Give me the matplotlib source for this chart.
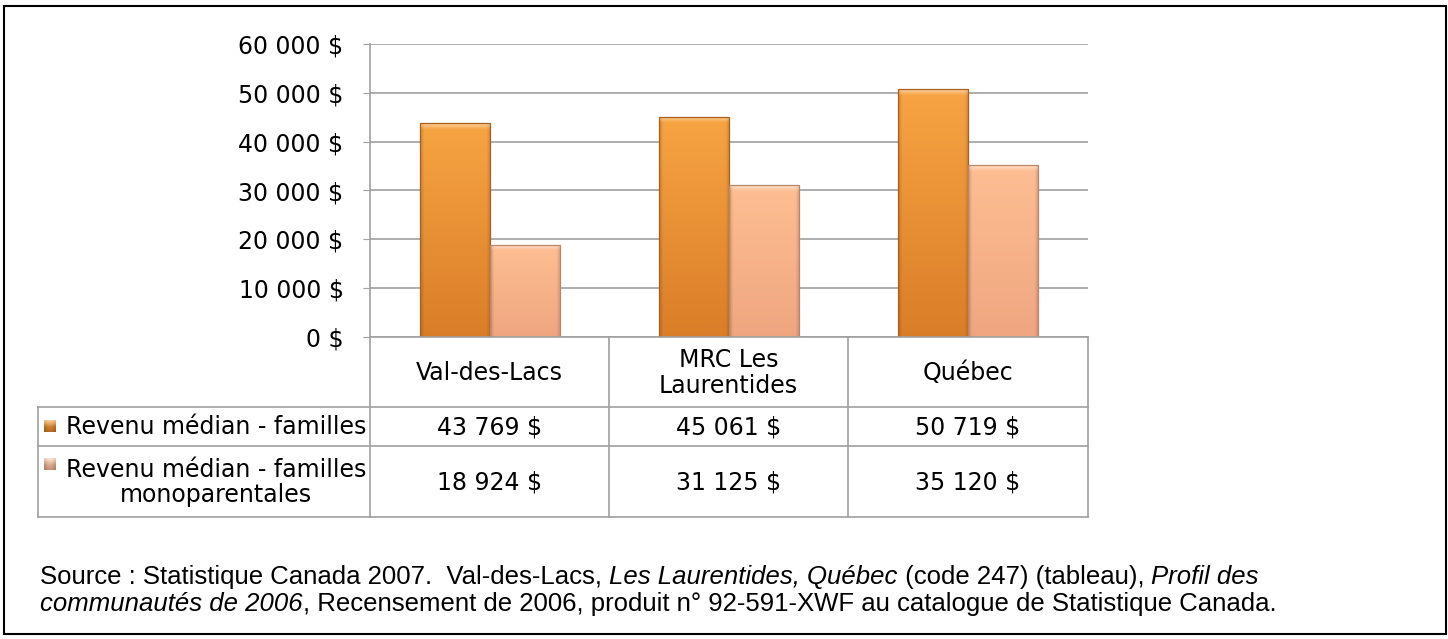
"""
Revenu médian des familles - Val-des-Lacs, MRC Les Laurentides, Québec (2006)
"""
import numpy as np
import matplotlib.pyplot as plt
from matplotlib.patches import Rectangle
from matplotlib.colors import to_rgb

# --- Data ---
categories = ['Val-des-Lacs', 'MRC Les\nLaurentides', 'Québec']
series_names = ['Revenu médian - familles', 'Revenu médian - familles\nmonoparentales']
familles = [43769, 45061, 50719]
monoparentales = [18924, 31125, 35120]
yticks = [0, 10000, 20000, 30000, 40000, 50000, 60000]

W, H = 1448, 639
FS = 17  # table / tick font size


def fx(px):
    return px / W


def fy(py):
    return 1 - py / H


def money(v):
    return f'{v:,}'.replace(',', ' ') + ' $'


def bar_image(h_px, w_px, top, bottom):
    """bevelled bar fill: vertical gradient, darker sides, light top strip"""
    ny, nx = max(int(h_px), 2), max(int(w_px), 2)
    t = np.linspace(0, 1, ny)[:, None, None]
    img = (1 - t) * np.array(to_rgb(top)) + t * np.array(to_rgb(bottom))
    img = np.repeat(img, nx, axis=1)
    xx = np.arange(nx)
    side = np.minimum(xx, nx - 1 - xx)
    dark = np.where(side < 4, 0.85 + 0.0375 * side, 1.0)
    img = img * dark[None, :, None]
    yy = np.arange(ny)
    light = np.where(yy < 6, 0.45 * (1 - yy / 6), 0.0)
    img = img + (1 - img) * light[:, None, None]
    return np.clip(img, 0, 1)


fig = plt.figure(figsize=(W / 100, H / 100), dpi=100)
fig.patch.set_facecolor('white')

# outer frame
fig.patches.append(Rectangle((fx(4), fy(634)), fx(1446) - fx(4), fy(6) - fy(634),
                             transform=fig.transFigure, fill=False, ec='black', lw=1.5))

# --- Bar chart ---
x0, x1, ytop, ybot = 370, 1088, 44, 337
ax = fig.add_axes([fx(x0), fy(ybot), fx(x1) - fx(x0), fy(ytop) - fy(ybot)])
ax.set_xlim(0, 3)
ax.set_ylim(0, 60000)

bw = 0.293
xs = np.arange(len(categories)) + 0.5
px_per_unit = (ybot - ytop) / 60000
bar_w_px = bw * (x1 - x0) / 3
for vals, off, top, bottom, ec in [(familles, -bw / 2, '#F7A443', '#DA7D28', '#A86020'),
                                   (monoparentales, bw / 2, '#FEBE92', '#EFA680', '#B8876A')]:
    bars = ax.bar(xs + off, vals, width=bw, color='none', edgecolor=ec, lw=0.9, zorder=3)
    for b in bars:
        left, h = b.get_x(), b.get_height()
        im = ax.imshow(bar_image(h * px_per_unit, bar_w_px, top, bottom), aspect='auto',
                       zorder=2.5, extent=(left, left + bw, 0, h), interpolation='bilinear')
        im.set_clip_path(b)

ax.set_yticks(yticks)
ax.set_yticklabels([money(v) for v in yticks], fontsize=FS)
ax.tick_params(axis='y', length=5, color='#A0A0A0', pad=14)
ax.set_xticks([])
ax.grid(axis='y', color='#A0A0A0', lw=1.2, zorder=0)
for s in ['top', 'right', 'bottom']:
    ax.spines[s].set_visible(False)
ax.spines['left'].set_color('#A0A0A0')
ax.spines['left'].set_linewidth(1.2)
ax.set_axisbelow(True)

# --- Data table ---
tc = '#A0A0A0'
col_edges = [370, 609, 848, 1088]
rows = [337, 407, 446, 517]


def hline(y, xa, xb):
    fig.add_artist(plt.Line2D([fx(xa), fx(xb)], [fy(y), fy(y)], color=tc, lw=1.2))


def vline(x, ya, yb):
    fig.add_artist(plt.Line2D([fx(x), fx(x)], [fy(ya), fy(yb)], color=tc, lw=1.2))


for xe in col_edges:
    vline(xe, rows[0], rows[-1])
vline(38, rows[1], rows[-1])
hline(rows[0], col_edges[0], col_edges[-1])
for yr in rows[1:]:
    hline(yr, 38, col_edges[-1])

for i, cat in enumerate(categories):
    cx = (col_edges[i] + col_edges[i + 1]) / 2
    fig.text(fx(cx), fy((rows[0] + rows[1]) / 2 + 1), cat, ha='center', va='center',
             fontsize=FS, linespacing=1.1)
    fig.text(fx(cx), fy((rows[1] + rows[2]) / 2 + 1), money(familles[i]),
             ha='center', va='center', fontsize=FS)
    fig.text(fx(cx), fy((rows[2] + rows[3]) / 2 + 1), money(monoparentales[i]),
             ha='center', va='center', fontsize=FS)

# legend keys + series names
key_cols = [('#F0A040', '#B86A25'), ('#F6C8A8', '#C89478')]
for j, name in enumerate(series_names):
    ya, yb = rows[j + 1], rows[j + 2]
    ky = 420 + 38 * j
    kax = fig.add_axes([fx(44), fy(ky + 12), fx(12), 12 / H])
    kax.imshow(bar_image(12, 12, key_cols[j][0], key_cols[j][1]), aspect='auto')
    kax.axis('off')
    fig.text(fx(216), fy((ya + yb) / 2 + 1), name, ha='center', va='center',
             fontsize=FS, linespacing=1.1)

# --- Source note (mixed roman / italic runs) ---
renderer = fig.canvas.get_renderer()


def runs(xpx, ypx, parts):
    x = fx(xpx)
    for txt, it in parts:
        t = fig.text(x, fy(ypx), txt, fontsize=18.5, family='Liberation Sans',
                     style='italic' if it else 'normal', va='center')
        bb = t.get_window_extent(renderer)
        x += bb.width / W


runs(40, 577, [('Source : Statistique Canada 2007.  Val-des-Lacs, ', False),
               ('Les Laurentides, Québec', True),
               (' (code 247) (tableau), ', False),
               ('Profil des', True)])
runs(40, 604, [('communautés de 2006', True),
               (', Recensement de 2006, produit n° 92-591-XWF au catalogue de Statistique Canada.', False)])

plt.savefig('out.png', dpi=100)
plt.close()
